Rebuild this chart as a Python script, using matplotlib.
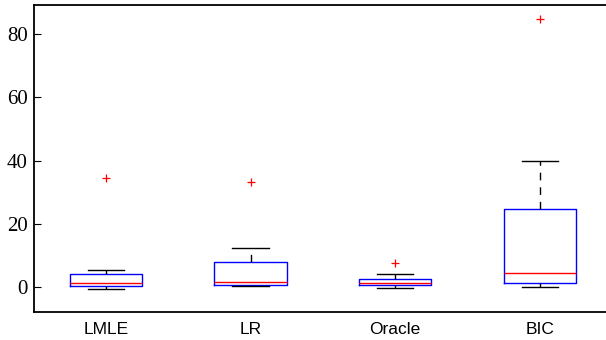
import matplotlib
matplotlib.use("Agg")
import matplotlib.pyplot as plt

# box statistics
methods = ['LMLE', 'LR', 'Oracle', 'BIC']
whislo = [-0.5, 0.2, -0.4, 0.0]
q1 = [0.4, 0.7, 0.5, 1.3]
med = [1.2, 1.7, 1.4, 4.5]
q3 = [4.0, 7.8, 2.4, 24.8]
whishi = [5.5, 12.4, 4.0, 40.0]
fliers = [[34.6], [33.2], [7.5], [84.7]]

stats = []
for i, name in enumerate(methods):
    stats.append(dict(label=name, whislo=whislo[i], q1=q1[i], med=med[i],
                      q3=q3[i], whishi=whishi[i], fliers=fliers[i]))

fig = plt.figure(figsize=(6.06, 3.40), dpi=100)
ax = fig.add_axes([33.5 / 606, 27.7 / 340, 578.8 / 606, 307.6 / 340])

ax.bxp(stats, widths=0.5, showfliers=True,
       boxprops=dict(color='blue', linewidth=1.0),
       medianprops=dict(color='red', linewidth=1.0),
       whiskerprops=dict(color='black', linewidth=1.0, linestyle=(0, (5.5, 5))),
       capprops=dict(color='black', linewidth=1.0),
       flierprops=dict(marker='+', markeredgecolor='red', markersize=6,
                       markeredgewidth=0.9, linestyle='none'))

ax.set_xlim(0.5, 4.5)
ax.set_ylim(-8.0, 89.3)
ax.set_yticks([0, 20, 40, 60, 80])

for s in ax.spines.values():
    s.set_linewidth(1.3)

ax.tick_params(axis='y', direction='in', length=5, width=0.8, pad=4,
               labelsize=15)
ax.tick_params(axis='x', length=0, pad=7, labelsize=12.5)
for lab in ax.get_yticklabels():
    lab.set_family('Liberation Serif')
for lab in ax.get_xticklabels():
    lab.set_family('Liberation Sans')

fig.savefig('out.png', dpi=100)
